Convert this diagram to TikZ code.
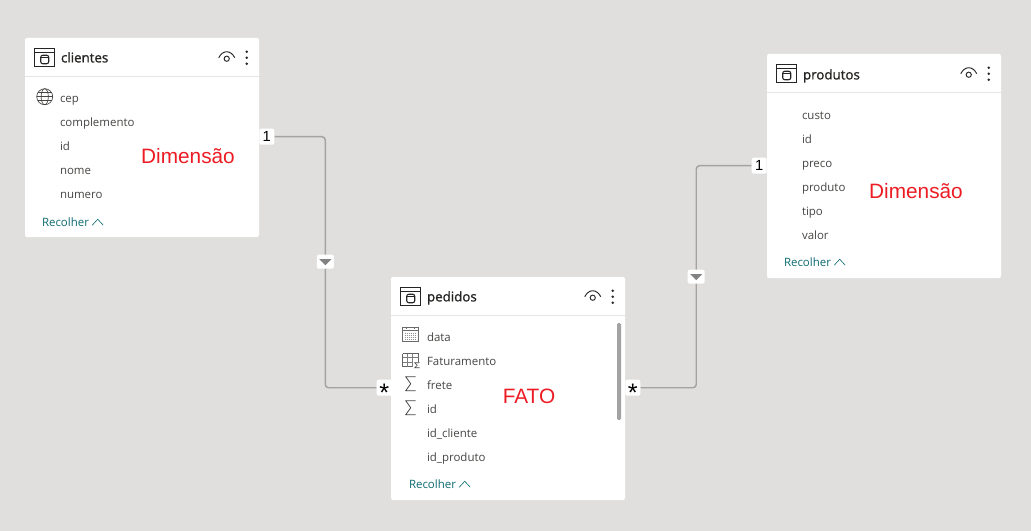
\documentclass[tikz,border=0pt]{standalone}
\usepackage{fontspec}
\setmainfont{Open Sans}
\newfontfamily\rotulofont{Liberation Sans}
\newfontfamily\titulofont[FakeBold=1.2]{Open Sans}
\usepackage{tikz}
\usetikzlibrary{calc}
\definecolor{fundo}{HTML}{E0DFDD}
\definecolor{campotxt}{HTML}{484644}
\definecolor{titulotxt}{HTML}{252423}
\definecolor{recolhertxt}{HTML}{0B6A70}
\definecolor{linha}{HTML}{A3A3A3}
\definecolor{vermelho}{HTML}{ED1C24}
\tikzset{
  cabecalho/.pic={
    \draw[titulotxt, line width=1.1pt] (10,11) rectangle (30,29);
    \draw[titulotxt, line width=.7pt] (10,15) -- (30,15);
    \draw[titulotxt, line width=.8pt, rounded corners=1.5pt] (16,17.5) rectangle (24,26);
    \draw[titulotxt, line width=.6pt] (16,20) -- (24,20);
    \draw[titulotxt, line width=.7pt] (194,20) .. controls (198,12) and (206,12) .. (210,20);
    \draw[titulotxt, line width=.7pt] (202,21) circle (2.6);
    \fill[titulotxt] (222,14) circle (1.3) (222,20) circle (1.3) (222,26) circle (1.3);
    \draw[black!10, line width=.7pt] (0,39) -- (234,39);
  },
  globo/.pic={
    \draw[campotxt, line width=.5pt] (0,0) circle (8);
    \draw[campotxt, line width=.5pt] (0,0) ellipse (3.6 and 8);
    \draw[campotxt, line width=.5pt] (-8,0) -- (8,0) (-7,-4) -- (7,-4) (-7,4) -- (7,4);
  },
  calendario/.pic={
    \draw[campotxt!80, line width=.5pt] (0,0) rectangle (16,14);
    \draw[campotxt!80, line width=.5pt] (0,3) -- (16,3) (4,-1) -- (4,1) (12,-1) -- (12,1);
    \foreach \g in {5.5,7.5,9.5,11.5}
      \draw[campotxt!60, line width=.7pt, dash pattern=on .8pt off .7pt] (2,\g) -- (14,\g);
  },
  tabsoma/.pic={
    \draw[campotxt!85, line width=.5pt] (0,0) -- (16,0) -- (16,8) (0,0) -- (0,13) -- (10,13);
    \draw[campotxt!70, line width=.4pt] (0,4) -- (16,4) (0,8.5) -- (10,8.5) (5,0) -- (5,13) (10,0) -- (10,13);
    \draw[campotxt, line width=.5pt] (17,9) -- (12,9) -- (14.5,11.5) -- (12,14) -- (17,14);
  },
  somatorio/.pic={
    \draw[campotxt, line width=.6pt] (10,0) -- (0,0) -- (5,7) -- (0,14) -- (10,14);
  }
}
\begin{document}
\begin{tikzpicture}[x=.75pt,y=-.75pt,
	  tabela/.style={rectangle,fill=white,rounded corners=1.5pt,minimum width=175.5pt,inner sep=0pt},
	  titulo/.style={anchor=west,inner sep=0pt,text=titulotxt,font=\titulofont\fontsize{10}{12}\selectfont,text height=7.5pt,text depth=2pt},
	  campo/.style={anchor=west,inner sep=0pt,text=campotxt,font=\fontsize{8.6}{10}\selectfont,text height=6.5pt,text depth=2pt},
	  recolher/.style={anchor=west,inner sep=0pt,text=recolhertxt,font=\fontsize{8.6}{10}\selectfont,text height=6.5pt,text depth=2pt},
	  chevron/.style={recolhertxt,line width=.45pt},
	  rotulo/.style={inner sep=0pt,text=vermelho,font=\rotulofont\fontsize{15.6}{18}\selectfont},
	  card/.style={rectangle,fill=white,rounded corners=1.5pt,inner sep=0pt,minimum width=11.25pt,minimum height=12pt,font=\rotulofont\fontsize{11}{12}\selectfont},
	  asterisco/.style={card,font=\rotulofont\fontsize{19}{19}\selectfont},
	  filtro/.style={rectangle,fill=white,rounded corners=1.5pt,inner sep=0pt,minimum width=12.75pt,minimum height=10.5pt},
	  relacao/.style={linha,line width=1.1pt,rounded corners=2.5pt}]

	 \fill[fundo] (0,0) rectangle (1031,531);
	 \useasboundingbox (0,0) rectangle (1031,531);

	 \node[tabela, minimum height=149.25pt] (clientes) at (142,137.5) {};
	 \node[tabela, minimum height=167.25pt] (pedidos) at (508,388.5) {};
	 \node[tabela, minimum height=168pt] (produtos) at (884,166) {};
	 \pic at (clientes.north west) {cabecalho};
	 \pic at (pedidos.north west) {cabecalho};
	 \pic at (produtos.north west) {cabecalho};

	 % clientes
	 \node[titulo] (ticli) at ($ (clientes.north west) + (36,21) $) {clientes};
	 \pic at ($ (clientes.north west) + (20,59) $) {globo};
	 \node[campo] (cep) at ($ (clientes.north west) + (35,62) $) {cep};
	 \node[campo] (compl) at ($ (cep.west) + (0,24) $) {complemento};
	 \node[campo] (idcli) at ($ (compl.west) + (0,24) $) {id};
	 \node[campo] (nome) at ($ (idcli.west) + (0,24) $) {nome};
	 \node[campo] (numero) at ($ (nome.west) + (0,24) $) {numero};
	 \node[recolher] (rec1) at ($ (clientes.north west) + (17,186) $) {Recolher};
	 \draw[chevron] ($ (rec1.east) + (3,1.5) $) -- ++(5.5,-6) -- ++(5.5,6);
	 \node[rotulo] (dim1) at (188,156) {Dimensão};

	 % pedidos
	 \node[titulo] (tiped) at ($ (pedidos.north west) + (36,21) $) {pedidos};
	 \pic at ($ (pedidos.north west) + (12,51) $) {calendario};
	 \pic at ($ (pedidos.north west) + (12,77) $) {tabsoma};
	 \pic at ($ (pedidos.north west) + (15,100) $) {somatorio};
	 \pic at ($ (pedidos.north west) + (15,124) $) {somatorio};
	 \node[campo] (data) at ($ (pedidos.north west) + (36,62) $) {data};
	 \node[campo] (fatur) at ($ (data.west) + (0,24) $) {Faturamento};
	 \node[campo] (frete) at ($ (fatur.west) + (0,24) $) {frete};
	 \node[campo] (idped) at ($ (frete.west) + (0,24) $) {id};
	 \node[campo] (idcliente) at ($ (idped.west) + (0,24) $) {id\_cliente};
	 \node[campo] (idproduto) at ($ (idcliente.west) + (0,24) $) {id\_produto};
	 \node[recolher] (rec2) at ($ (pedidos.north west) + (18,209) $) {Recolher};
	 \draw[chevron] ($ (rec2.east) + (3,1.5) $) -- ++(5.5,-6) -- ++(5.5,6);
	 \fill[linha, rounded corners=1pt] (617,323) rectangle (621,420);
	 \node[rotulo] (fato) at (529,396) {FATO};

	 % produtos
	 \node[titulo] (tipro) at ($ (produtos.north west) + (36,22) $) {produtos};
	 \node[campo] (custo) at ($ (produtos.north west) + (35,63) $) {custo};
	 \node[campo] (idpro) at ($ (custo.west) + (0,24) $) {id};
	 \node[campo] (preco) at ($ (idpro.west) + (0,24) $) {preco};
	 \node[campo] (produto) at ($ (preco.west) + (0,24) $) {produto};
	 \node[campo] (tipo) at ($ (produto.west) + (0,24) $) {tipo};
	 \node[campo] (valor) at ($ (tipo.west) + (0,24) $) {valor};
	 \node[recolher] (rec3) at ($ (produtos.north west) + (17,210) $) {Recolher};
	 \draw[chevron] ($ (rec3.east) + (3,1.5) $) -- ++(5.5,-6) -- ++(5.5,6);
	 \node[rotulo] (dim2) at (916,191) {Dimensão};

	 % relacoes
	 \node[card] (um1) at ($ (clientes.north east) + (7.5,99) $) {1};
	 \node[asterisco] (ast1) at ($ (pedidos.north west) + (-6.5,111) $) {\raisebox{-6pt}[8pt][0pt]{*}};
	 \node[asterisco] (ast2) at ($ (pedidos.north east) + (7.5,111) $) {\raisebox{-6pt}[8pt][0pt]{*}};
	 \node[card] (um2) at ($ (produtos.north west) + (-7.5,112) $) {1};
	 \coordinate (meio1) at ($ (um1) + (58.5,125) $);
	 \coordinate (meio2) at ($ (um2) + (-63,111) $);
	 \draw[relacao] (um1.east) -| (meio1) |- (ast1.west);
	 \draw[relacao] (um2.west) -| (meio2) |- (ast2.east);
	 \node[filtro] (filtro1) at (meio1) {};
	 \node[filtro] (filtro2) at (meio2) {};
	 \fill[linha!80!black] ($ (filtro1) + (-6,-2.5) $) -- ++(12,0) -- ++(-6,6) -- cycle;
	 \fill[linha!80!black] ($ (filtro2) + (-6,-2.5) $) -- ++(12,0) -- ++(-6,6) -- cycle;
	\end{tikzpicture}
\end{document}
